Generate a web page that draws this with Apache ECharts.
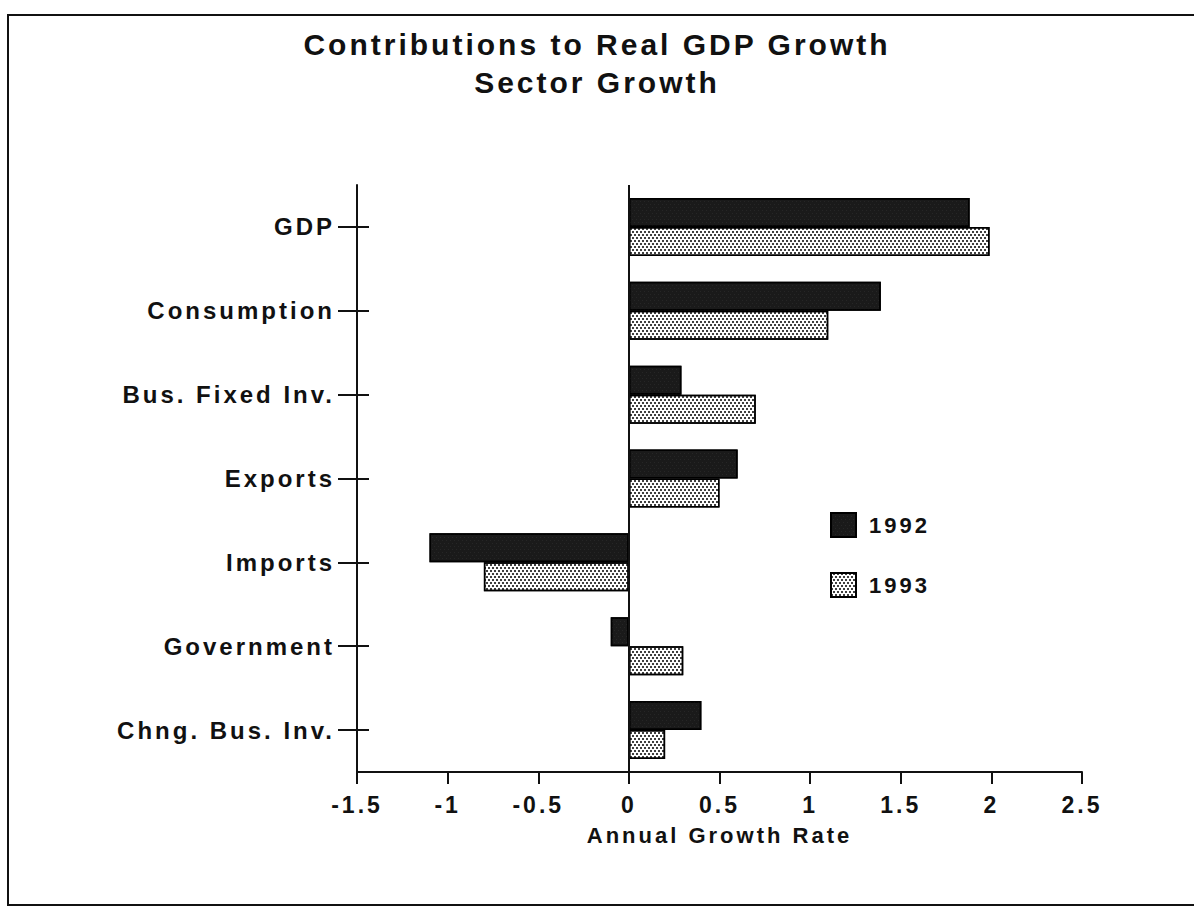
<!DOCTYPE html>
<html>
<head>
<meta charset="utf-8">
<script src="https://cdn.jsdelivr.net/npm/echarts@6/dist/echarts.min.js"></script>
<style>
  html, body { margin: 0; padding: 0; background: #fff; }
  #chart { width: 1194px; height: 916px; }
  /* the scanned chart uses loose letter spacing */
  #chart text { letter-spacing: 3px; }
</style>
</head>
<body>
<div id="chart"></div>
<script>
// data
const categories = ['GDP', 'Consumption', 'Bus. Fixed Inv.', 'Exports', 'Imports', 'Government', 'Chng. Bus. Inv.']
const values1992 = [1.88, 1.39, 0.29, 0.6, -1.1, -0.1, 0.4]
const values1993 = [1.99, 1.1, 0.7, 0.5, -0.8, 0.3, 0.2]
const seriesNames = ['1992', '1993']

const font = 'Liberation Sans'
const ink = '#111'

const chart = echarts.init(document.getElementById('chart'), null, {renderer: 'svg'})

const option = {
  backgroundColor: '#fff',
  animation: false,
  title: {
    text: 'Contributions to Real GDP Growth\nSector Growth',
    left: 'center',
    top: 20,
    textStyle: {
      fontFamily: font,
      fontWeight: 'bold',
      fontSize: 30,
      lineHeight: 38,
      color: ink,
    },
  },
  graphic: [
    {
      type: 'rect',
      shape: {x: 8, y: 15, width: 1200, height: 890},
      style: {fill: 'none', stroke: ink, lineWidth: 2},
      silent: true,
    },
  ],
  legend: {
    orient: 'vertical',
    left: 825,
    top: 507,
    icon: 'rect',
    itemWidth: 25,
    itemHeight: 24,
    itemGap: 34,
    data: seriesNames,
    textStyle: {fontFamily: font, fontWeight: 'bold', fontSize: 22, color: ink, padding: [0, 0, 0, 8]},
  },
  grid: {left: 357, right: 112, top: 185, bottom: 144},
  xAxis: {
    type: 'value',
    min: -1.5,
    max: 2.5,
    interval: 0.5,
    name: 'Annual Growth Rate',
    nameLocation: 'middle',
    nameGap: 52,
    nameTextStyle: {fontFamily: font, fontWeight: 'bold', fontSize: 22, color: ink},
    axisLine: {show: true, onZero: false, lineStyle: {color: ink, width: 2}},
    axisTick: {show: true, inside: false, length: 12, lineStyle: {color: ink, width: 2}},
    axisLabel: {margin: 21, fontFamily: font, fontWeight: 'bold', fontSize: 23, color: ink},
    splitLine: {show: false},
  },
  yAxis: [
    {
      type: 'category',
      data: categories,
      inverse: true,
      axisLine: {show: true, onZero: false, lineStyle: {color: ink, width: 2}},
      axisTick: {show: true, alignWithLabel: true, length: 19, lineStyle: {color: ink, width: 2}},
      axisLabel: {margin: 22, fontFamily: font, fontWeight: 'bold', fontSize: 24, color: ink},
    },
    {
      // second copy only to draw the inner half of the crossing ticks
      type: 'category',
      data: categories,
      inverse: true,
      position: 'left',
      axisLine: {show: false, onZero: false},
      axisTick: {show: true, inside: true, alignWithLabel: true, length: 12, lineStyle: {color: ink, width: 2}},
      axisLabel: {show: false},
    },
  ],
  series: [
    {
      name: seriesNames[0],
      type: 'bar',
      data: values1992,
      barWidth: 29,
      barGap: '0%',
      itemStyle: {
        color: '#1a1a1a',
        borderColor: '#000',
        borderWidth: 1.5,
        decal: {
          symbol: 'rect',
          symbolSize: 0.6,
          color: 'rgba(140,140,140,0.35)',
          dashArrayX: [[1, 3], [0, 2, 1, 1]],
          dashArrayY: [1, 2],
        },
      },
      markLine: {
        silent: true,
        symbol: 'none',
        label: {show: false},
        lineStyle: {color: ink, width: 2, type: 'solid'},
        data: [{xAxis: 0}],
      },
    },
    {
      name: seriesNames[1],
      type: 'bar',
      data: values1993,
      barWidth: 29,
      itemStyle: {
        color: '#fff',
        borderColor: '#000',
        borderWidth: 1.5,
        decal: {
          symbol: 'rect',
          symbolSize: 1,
          color: 'rgba(0,0,0,0.75)',
          dashArrayX: [[2, 2], [0, 2, 2, 0]],
          dashArrayY: [2, 1],
        },
      },
    },
  ],
}

chart.setOption(option)
</script>
</body>
</html>
